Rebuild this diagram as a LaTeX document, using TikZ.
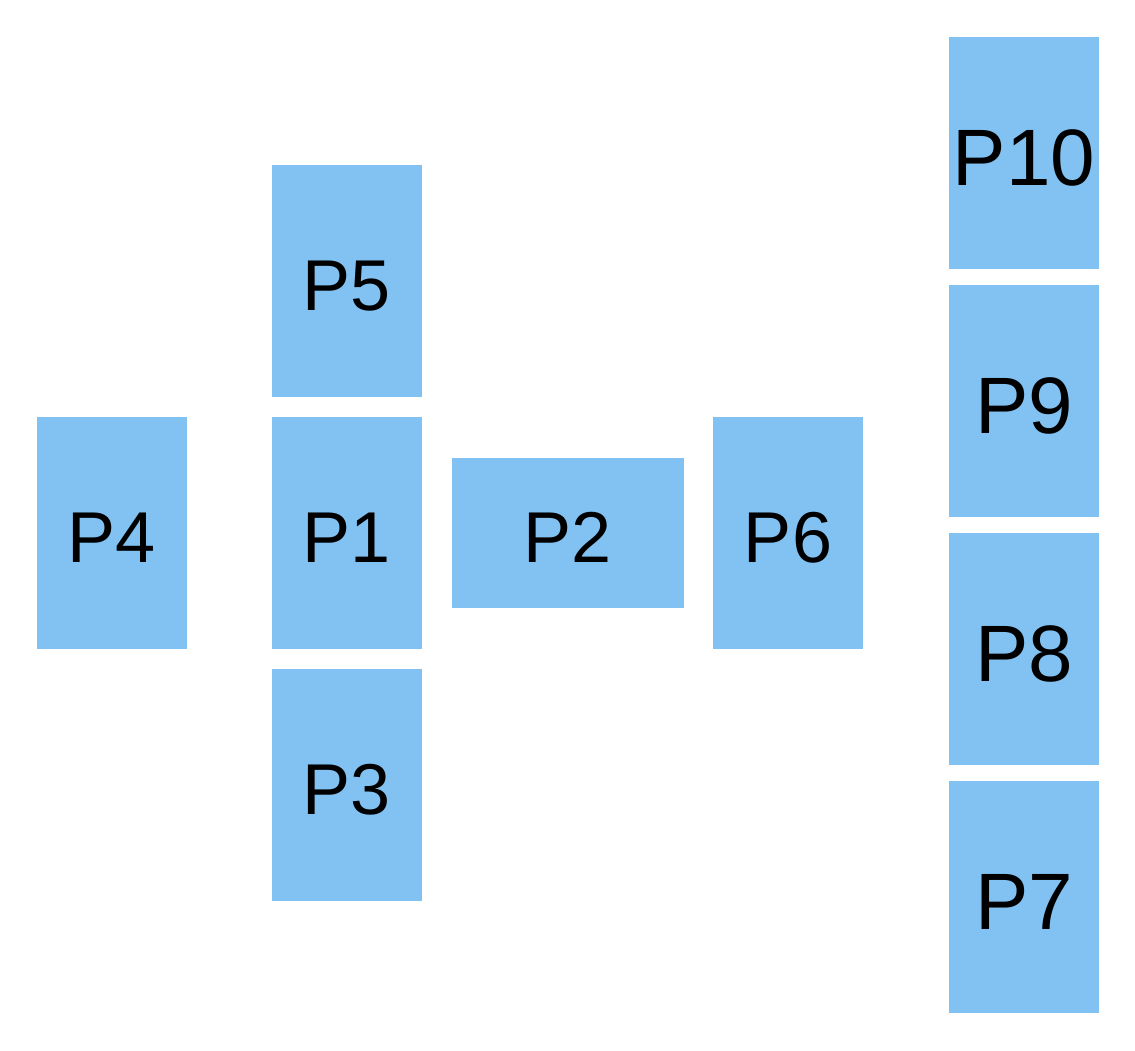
\documentclass[tikz,border=0pt]{standalone}
\usepackage{fontspec}
\setmainfont{Liberation Sans}
\definecolor{boxblue}{HTML}{82C2F2}
\begin{document}
\begin{tikzpicture}[x=1pt,y=-1pt,
  pbox/.style={fill=boxblue,draw=none,inner sep=0pt,text height=58pt,text depth=0pt,font=\fontsize{72}{72}\selectfont},
  tall/.style={pbox,minimum width=150pt,minimum height=232pt},
  wide/.style={pbox,minimum width=232pt,minimum height=150pt},
  big/.style={font=\fontsize{80}{80}\selectfont,text height=65pt}]
\useasboundingbox (0,0) rectangle (1135,1050);
\node[tall] (p4) at (112,533) {P4};
\node[tall] (p5) at (347,281) {P5};
\node[tall] (p1) at (347,533) {P1};
\node[tall] (p3) at (347,785) {P3};
\node[wide] (p2) at (568,533) {P2};
\node[tall] (p6) at (788,533) {P6};
\node[tall,big] (p10) at (1024,153) {P10};
\node[tall,big] (p9) at (1024,401) {P9};
\node[tall,big] (p8) at (1024,649) {P8};
\node[tall,big] (p7) at (1024,897) {P7};
\end{tikzpicture}
\end{document}
